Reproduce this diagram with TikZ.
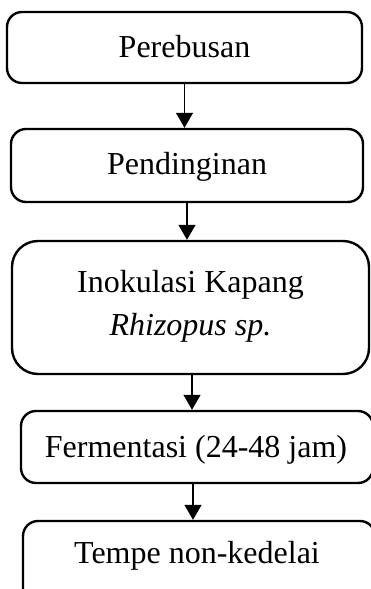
\documentclass[tikz,border=0pt]{standalone}
\usepackage{fontspec}
\setmainfont{Liberation Serif}
\usetikzlibrary{arrows.meta}
\begin{document}
\begin{tikzpicture}[x=1pt,y=-1pt,
  stepbox/.style={draw, line width=2.4pt, rounded corners=15pt, inner sep=0pt, anchor=center},
  lbl/.style={font=\fontsize{32}{43}\selectfont, inner sep=0pt, anchor=base},
  arr/.style={line width=1.3pt, -{Triangle[length=15pt,width=17pt]}}]
\useasboundingbox (0,0) rectangle (371,589);
\clip (0,0) rectangle (371,589);
\fill[white] (0,0) rectangle (371,589);
% boxes
\node[stepbox, minimum width=355pt, minimum height=71pt] (b1) at (184.5,47.5) {};
\node[stepbox, minimum width=352pt, minimum height=73pt] (b2) at (187,165.5) {};
\node[stepbox, rounded corners=26pt, minimum width=357pt, minimum height=133pt] (b3) at (190.5,307.5) {};
\node[stepbox, minimum width=352pt, minimum height=72pt] (b4) at (197,447) {};
\node[stepbox, minimum width=352pt, minimum height=110pt] (b5) at (199,576) {};
% texts
\node[lbl] (t1) at (184.5,57) {Perebusan};
\node[lbl] (t2) at (187,174) {Pendinginan};
\node[lbl] (t3a) at (190.5,292) {Inokulasi Kapang};
\node[lbl] (t3b) at (190.5,335) {\itshape Rhizopus sp.};
\node[lbl] (t4) at (196,457) {Fermentasi (24-48 jam)};
\node[lbl] (t5) at (197,563) {Tempe non-kedelai};
% connectors
\draw[arr] (b1.south) -- (b1.south |- b2.north);
\draw[arr] (b2.south) -- (b2.south |- b3.north);
\draw[arr] ([xshift=1.5pt]b3.south) -- ([xshift=1.5pt]b3.south |- b4.north);
\draw[arr] ([xshift=-4pt]b4.south) -- ([xshift=-4pt]b4.south |- b5.north);
\end{tikzpicture}
\end{document}
